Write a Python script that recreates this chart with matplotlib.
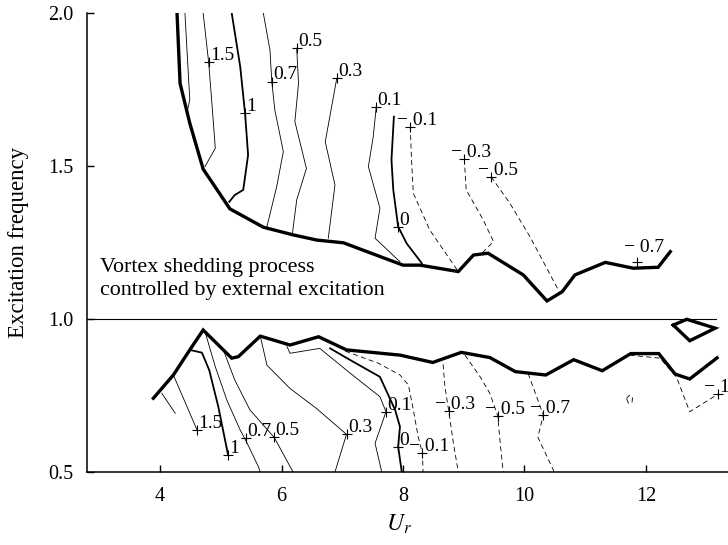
import matplotlib.pyplot as plt
import numpy as np

plt.rcParams['font.family'] = 'Liberation Serif'
plt.rcParams['mathtext.fontset'] = 'stix'

# thick boundaries of the region where shedding follows the excitation (Ur, f)
upper_edge = [(4.28, 2.0), (4.33, 1.77), (4.49, 1.64), (4.71, 1.49), (5.15, 1.36),
              (5.70, 1.30), (6.19, 1.275), (6.58, 1.258), (7.02, 1.249), (8.00, 1.176),
              (8.28, 1.176), (8.91, 1.155), (9.16, 1.209), (9.40, 1.215), (9.98, 1.144),
              (10.37, 1.059), (10.62, 1.089), (10.83, 1.144), (11.33, 1.185),
              (11.79, 1.166), (12.20, 1.169), (12.40, 1.22)]
lower_edge = [(3.89, 0.741), (4.22, 0.817), (4.49, 0.899), (4.71, 0.964), (5.18, 0.872),
              (5.29, 0.877), (5.65, 0.944), (6.14, 0.915), (6.61, 0.942), (7.07, 0.899),
              (7.95, 0.882), (8.49, 0.858), (8.96, 0.891), (9.43, 0.874), (9.85, 0.828),
              (10.35, 0.817), (10.81, 0.867), (11.28, 0.831), (11.75, 0.887),
              (12.21, 0.887), (12.48, 0.820), (12.72, 0.804), (13.17, 0.873)]
loop_edge = [(12.45, 0.980), (12.67, 0.999), (13.14, 0.970), (12.72, 0.929), (12.45, 0.980)]

# contours above f = 1
up_a = [(4.41, 2.0), (4.49, 1.716), (4.45, 1.68)]
up_15 = [(4.71, 2.0), (4.80, 1.84), (4.85, 1.716), (4.91, 1.558), (4.74, 1.498)]
up_1 = [(5.18, 2.0), (5.32, 1.825), (5.40, 1.672), (5.45, 1.536), (5.37, 1.422),
        (5.23, 1.405), (5.14, 1.383)]
up_07 = [(5.70, 2.0), (5.81, 1.879), (5.84, 1.776), (5.89, 1.683), (6.03, 1.547),
         (5.92, 1.432), (5.76, 1.302)]
up_05 = [(6.25, 1.885), (6.28, 1.770), (6.22, 1.645), (6.41, 1.492), (6.25, 1.389),
         (6.18, 1.280)]
up_03 = [(6.91, 1.787), (6.72, 1.579), (6.88, 1.438), (6.77, 1.264)]
up_01 = [(7.56, 1.694), (7.51, 1.596), (7.43, 1.498), (7.62, 1.362), (7.54, 1.264),
         (7.95, 1.187)]
up_0 = [(7.85, 1.661), (7.81, 1.520), (7.84, 1.422), (7.92, 1.302), (8.06, 1.247),
        (8.31, 1.182)]
up_m01 = [(8.12, 1.628), (8.14, 1.520), (8.17, 1.411), (8.44, 1.291), (8.91, 1.155)]
up_m03 = [(9.01, 1.522), (9.04, 1.422), (9.32, 1.324), (9.49, 1.253), (9.30, 1.215)]
up_m05 = [(9.45, 1.465), (9.76, 1.378), (10.09, 1.269), (10.57, 1.09)]

# contours below f = 1
low_a = [(4.03, 0.757), (4.25, 0.692)]
low_15 = [(4.22, 0.817), (4.61, 0.637)]
low_1 = [(4.49, 0.899), (4.69, 0.890), (4.81, 0.833), (4.96, 0.713), (5.12, 0.556)]
low_07 = [(4.74, 0.959), (4.91, 0.844), (5.10, 0.735), (5.32, 0.637), (5.42, 0.60),
          (5.62, 0.517), (5.65, 0.5)]
low_05 = [(5.05, 0.895), (5.23, 0.801), (5.48, 0.703), (5.88, 0.613), (6.19, 0.5)]
low_03 = [(5.66, 0.936), (5.76, 0.849), (6.14, 0.773), (6.58, 0.707), (7.07, 0.623),
          (6.88, 0.5)]
low_01 = [(6.09, 0.910), (6.14, 0.888), (6.63, 0.904), (7.13, 0.823), (7.62, 0.746),
          (7.72, 0.697), (7.54, 0.594), (7.65, 0.5)]
low_0 = [(6.80, 0.904), (7.13, 0.866), (7.62, 0.811), (7.87, 0.703), (7.95, 0.648),
         (7.92, 0.583), (7.98, 0.5)]
low_m01 = [(7.05, 0.895), (7.60, 0.855), (7.95, 0.817), (8.09, 0.784), (8.17, 0.703),
           (8.25, 0.615), (8.32, 0.561), (8.33, 0.5)]
low_m03 = [(8.66, 0.852), (8.69, 0.779), (8.75, 0.703), (8.83, 0.594), (8.91, 0.5)]
low_m05 = [(9.02, 0.882), (9.27, 0.811), (9.43, 0.757), (9.56, 0.683), (9.60, 0.594),
           (9.65, 0.5)]
low_m07 = [(10.06, 0.822), (10.31, 0.686), (10.22, 0.614), (10.49, 0.5)]
low_m1 = [(11.73, 0.882), (12.23, 0.872), (12.50, 0.811), (12.72, 0.697), (13.19, 0.755)]
blob = [(11.68, 0.74), (11.72, 0.75), (11.78, 0.745), (11.77, 0.727), (11.71, 0.725),
        (11.68, 0.74)]

# contour labels (position of the + mark)
label_text = ['1.5', '1', '0.7', '0.5', '0.3', '0.1', '0', '− 0.1', '− 0.3', '− 0.5', '− 0.7',
              '1.5', '1', '0.7', '0.5', '0.3', '0.1', '0', '− 0.1', '− 0.3', '− 0.5', '− 0.7', '− 1']
label_ur = [4.80, 5.40, 5.84, 6.25, 6.91, 7.56, 7.92, 8.12, 9.01, 9.45, 11.85,
            4.61, 5.12, 5.42, 5.88, 7.07, 7.72, 7.92, 8.32, 8.75, 9.57, 10.30, 13.18]
label_f = [1.84, 1.672, 1.776, 1.885, 1.787, 1.694, 1.302, 1.628, 1.522, 1.465, 1.187,
           0.637, 0.556, 0.61, 0.613, 0.623, 0.697, 0.583, 0.561, 0.70, 0.684, 0.687, 0.756]

fig = plt.figure(figsize=(7.28, 5.45), dpi=100)
ax = fig.add_axes([87 / 728, 1 - 472 / 545, 641 / 728, 459 / 545])

thin = dict(color='black', lw=0.6)
medium = dict(color='black', lw=1.3)
dashed = dict(color='black', lw=0.6, dashes=(6, 4))
thick = dict(color='black', lw=2.4, solid_joinstyle='miter')

lines = [(upper_edge, thick), (lower_edge, thick), (loop_edge, thick),
         (up_a, thin), (up_15, thin), (up_1, medium), (up_07, thin), (up_05, thin),
         (up_03, thin), (up_01, thin), (up_0, medium), (up_m01, dashed),
         (up_m03, dashed), (up_m05, dashed),
         (low_a, thin), (low_15, thin), (low_1, medium), (low_07, thin), (low_05, thin),
         (low_03, thin), (low_01, thin), (low_0, medium), (low_m01, dashed),
         (low_m03, dashed), (low_m05, dashed), (low_m07, dashed), (low_m1, dashed),
         (blob, dashed)]
for pts, style in lines:
    pts = np.array(pts)
    ax.plot(pts[:, 0], pts[:, 1], **style)

# line at f = 1
ax.plot([2.8, 13.15], [1.0, 1.0], color='black', lw=0.8)

ax.plot(label_ur, label_f, ls='none', marker='+', ms=7, mew=0.8, color='black')
for txt, u, f in zip(label_text, label_ur, label_f):
    dx = -9.5 if txt.startswith('−') else 1
    dy = 1.5
    if txt == '− 0.7' and f > 1:
        dy = 7
    ax.annotate(txt, (u, f), xytext=(dx, dy), textcoords='offset points',
                fontsize=14, ha='left', va='baseline')

ax.text(3.01, 1.154, 'Vortex shedding process', fontsize=15.8, va='baseline')
ax.text(3.01, 1.078, 'controlled by external excitation', fontsize=15.8, va='baseline')

ax.set_xlim(2.798, 13.35)
ax.set_ylim(0.5, 2.0)
ax.set_xticks([4, 6, 8, 10, 12])
ax.set_yticks([0.5, 1.0, 1.5, 2.0])
ax.set_yticklabels(['0.5', '1.0', '1.5', '2.0'])
ax.tick_params(direction='in', length=5, width=1.0, labelsize=14.5)
ax.tick_params(axis='y', pad=10)
ax.tick_params(axis='x', pad=11)
for s in ['top', 'right']:
    ax.spines[s].set_visible(False)
for s in ['left', 'bottom']:
    ax.spines[s].set_linewidth(1.1)

fig.text(19 / 728, 0.555, 'Excitation frequency', rotation=90, fontsize=16.5,
         ha='center', va='center')
fig.text(399 / 728, 1 - 524 / 545, '$U_r$', fontsize=17, ha='center', va='center')

fig.savefig('out.png', dpi=100)
